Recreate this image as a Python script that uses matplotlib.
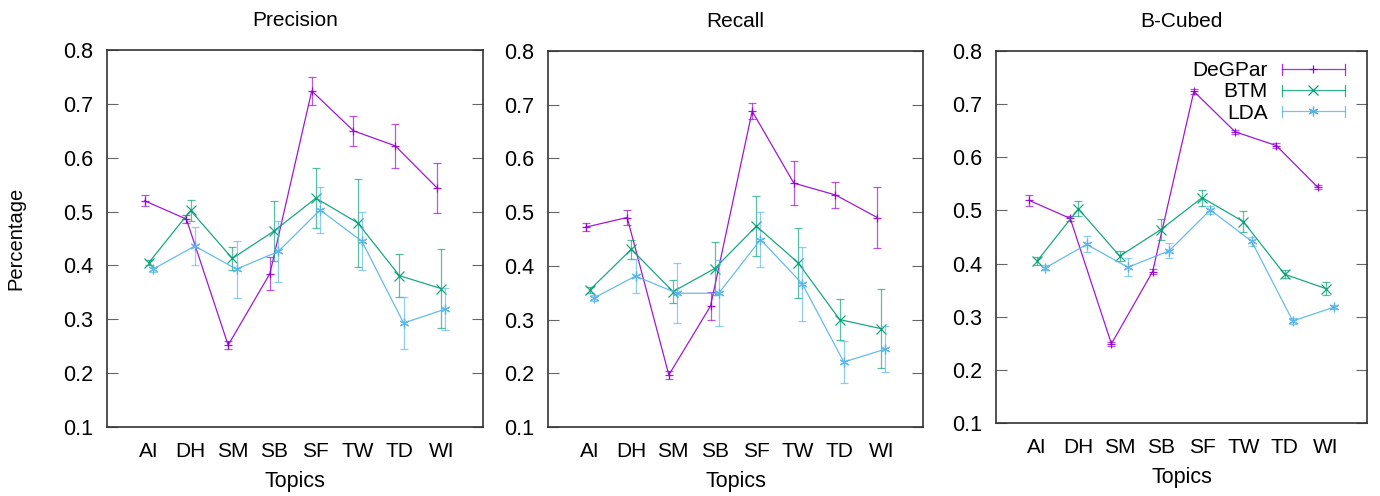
import matplotlib
matplotlib.use("Agg")
import matplotlib.pyplot as plt
from matplotlib.lines import Line2D
from matplotlib.legend_handler import HandlerBase
import numpy as np

plt.rcParams['font.family'] = ['Liberation Sans', 'DejaVu Sans']

topics = ["AI", "DH", "SM", "SB", "SF", "TW", "TD", "WI"]
methods = ["DeGPar", "BTM", "LDA"]
panel_titles = ["Precision", "Recall", "B-Cubed"]

# Precision
prec_degpar = [0.520, 0.486, 0.252, 0.385, 0.724, 0.650, 0.622, 0.544]
prec_degpar_err = [0.010, 0.007, 0.008, 0.030, 0.026, 0.028, 0.041, 0.047]
prec_btm = [0.405, 0.502, 0.413, 0.464, 0.525, 0.479, 0.381, 0.357]
prec_btm_err = [0.005, 0.020, 0.022, 0.055, 0.056, 0.081, 0.040, 0.074]
prec_lda = [0.393, 0.436, 0.393, 0.426, 0.503, 0.445, 0.293, 0.319]
prec_lda_err = [0.005, 0.036, 0.053, 0.057, 0.043, 0.054, 0.048, 0.039]

# Recall
rec_degpar = [0.472, 0.490, 0.197, 0.325, 0.688, 0.554, 0.532, 0.490]
rec_degpar_err = [0.007, 0.014, 0.008, 0.026, 0.015, 0.041, 0.025, 0.056]
rec_btm = [0.355, 0.431, 0.352, 0.395, 0.474, 0.406, 0.300, 0.283]
rec_btm_err = [0.005, 0.018, 0.021, 0.049, 0.056, 0.065, 0.038, 0.074]
rec_lda = [0.340, 0.381, 0.349, 0.349, 0.449, 0.367, 0.221, 0.245]
rec_lda_err = [0.005, 0.032, 0.056, 0.061, 0.051, 0.069, 0.040, 0.043]

# B-Cubed
bc_degpar = [0.519, 0.485, 0.249, 0.385, 0.724, 0.648, 0.622, 0.544]
bc_degpar_err = [0.010, 0.004, 0.004, 0.005, 0.004, 0.004, 0.004, 0.004]
bc_btm = [0.405, 0.503, 0.414, 0.464, 0.524, 0.479, 0.380, 0.353]
bc_btm_err = [0.007, 0.014, 0.010, 0.019, 0.015, 0.019, 0.007, 0.013]
bc_lda = [0.392, 0.436, 0.393, 0.424, 0.501, 0.442, 0.292, 0.318]
bc_lda_err = [0.005, 0.015, 0.017, 0.014, 0.008, 0.008, 0.005, 0.004]

panels = [
    [(prec_degpar, prec_degpar_err), (prec_btm, prec_btm_err), (prec_lda, prec_lda_err)],
    [(rec_degpar, rec_degpar_err), (rec_btm, rec_btm_err), (rec_lda, rec_lda_err)],
    [(bc_degpar, bc_degpar_err), (bc_btm, bc_btm_err), (bc_lda, bc_lda_err)],
]
panel_offsets = [0.1, 0.1, 0.2]

colors = ["#9400D3", "#009E73", "#56B4E9"]
markers = ["+", "x", (6, 2, 0)]
msizes = [6, 6.5, 7]

W, H = 1380, 496
fig = plt.figure(figsize=(W / 100, H / 100), dpi=100)

rects_px = [(107, 50, 483, 427), (548, 51, 923, 427), (996, 51, 1367, 423)]


class ErrLineHandler(HandlerBase):
    def __init__(self, color, marker, ms):
        super().__init__()
        self.color, self.marker, self.ms = color, marker, ms

    def create_artists(self, legend, orig_handle, xdescent, ydescent,
                       width, height, fontsize, trans):
        y = height / 2 - ydescent
        x0, x1 = -xdescent, -xdescent + width
        cap = 4
        arts = [
            Line2D([x0, x1], [y, y], color=self.color, lw=0.9, alpha=0.8),
            Line2D([x0, x0], [y - cap, y + cap], color=self.color, lw=0.9, alpha=0.8),
            Line2D([x1, x1], [y - cap, y + cap], color=self.color, lw=0.9, alpha=0.8),
            Line2D([(x0 + x1) / 2], [y], color=self.color, marker=self.marker,
                   ms=self.ms, mew=0.9, ls="none"),
        ]
        for a in arts:
            a.set_transform(trans)
        return arts


x = np.arange(1, len(topics) + 1)
for pi, (l, t, r, b) in enumerate(rects_px):
    ax = fig.add_axes([l / W, (H - b) / H, (r - l) / W, (b - t) / H])
    off = panel_offsets[pi]
    handles = []
    for si, (vals, errs) in enumerate(panels[pi]):
        xs = x + (si - 1) * off
        ax.errorbar(xs, vals, yerr=errs, fmt="none", ecolor=colors[si],
                    elinewidth=0.9, capsize=3.2, capthick=0.9, alpha=0.65)
        h, = ax.plot(xs, vals, color=colors[si], lw=0.9, marker=markers[si],
                     ms=msizes[si], mew=0.9, alpha=0.9)
        handles.append(h)
    ax.set_xlim(0, 9)
    ax.set_ylim(0.1, 0.8)
    ax.set_xticks(x)
    ax.set_xticklabels(topics)
    ax.set_yticks(np.round(np.arange(0.1, 0.81, 0.1), 1))
    ax.set_yticklabels([f"{v:.1f}" for v in np.arange(0.1, 0.81, 0.1)])
    ax.tick_params(axis="x", length=0, pad=11, labelsize=15)
    ax.tick_params(axis="y", direction="in", length=8, width=0.8, color="#666666",
                   right=True, pad=10, labelsize=15.5)
    for sp in ax.spines.values():
        sp.set_color("#333333")
        sp.set_linewidth(1.2)
    ax.set_xlabel("Topics", fontsize=15.5, labelpad=7)
    ax.set_title(panel_titles[pi], fontsize=15, pad=17)
    if pi == 0:
        ax.set_ylabel("Percentage", fontsize=14.5)
        ax.yaxis.set_label_coords(-0.218, 0.5)
    if pi == 2:
        hm = {handles[i]: ErrLineHandler(colors[i], markers[i], msizes[i]) for i in range(3)}
        ax.legend(handles, methods, handler_map=hm, loc="upper right",
                  frameon=False, markerfirst=False, fontsize=15,
                  handlelength=3.0, handletextpad=0.7, labelspacing=0.1,
                  borderaxespad=0.0, borderpad=0.0, bbox_to_anchor=(0.94, 0.972))

fig.savefig("out.png", dpi=100)
